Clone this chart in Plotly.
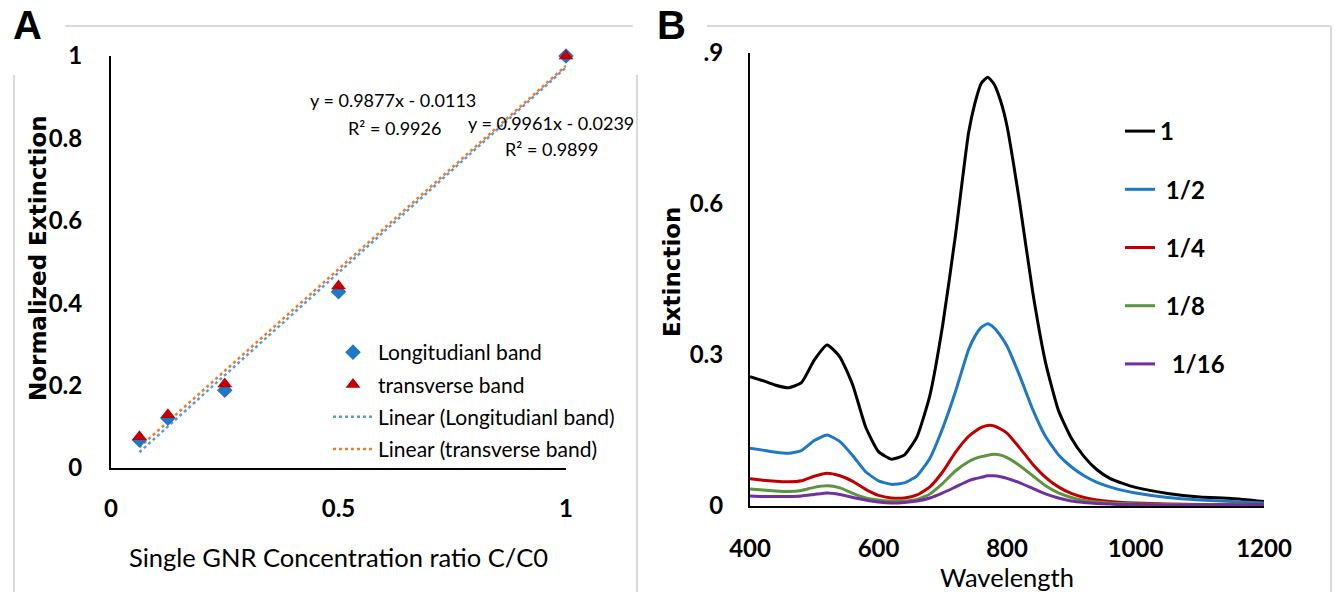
import plotly.graph_objects as go

W, H = 1335, 592

# ---------------- Panel A data ----------------
conc = [0.0625, 0.125, 0.25, 0.5, 1.0]
long_band = [0.068, 0.121, 0.189, 0.428, 1.0]
trans_band = [0.076, 0.129, 0.204, 0.442, 1.0]
fit_long_slope, fit_long_icpt = 0.9961, -0.0239
fit_trans_slope, fit_trans_icpt = 0.9877, -0.0113
fit_x = [0.0625, 1.0]
xA_ticks = [0, 0.5, 1]
xA_labels = ["0", "0.5", "1"]
yA_ticks = [0, 0.2, 0.4, 0.6, 0.8, 1]
yA_labels = ["0", "0.2", "0.4", "0.6", "0.8", "1"]

# ---------------- Panel B data ----------------
wl = [400, 420, 440, 460, 480, 500, 520, 540, 560, 580, 600, 620, 640, 660, 680,
      700, 720, 740, 750, 760, 770, 780, 790, 800, 820, 840, 860, 880, 900, 920,
      940, 960, 980, 1000, 1050, 1100, 1150, 1200]
ext_1 = [0.257, 0.249, 0.240, 0.235, 0.245, 0.290, 0.320, 0.296, 0.240, 0.157, 0.108,
         0.093, 0.101, 0.138, 0.220, 0.360, 0.540, 0.740, 0.800, 0.840, 0.852, 0.838,
         0.805, 0.755, 0.600, 0.425, 0.285, 0.190, 0.135, 0.098, 0.072, 0.055, 0.045,
         0.037, 0.025, 0.018, 0.015, 0.009]
ext_1_2 = [0.115, 0.111, 0.107, 0.105, 0.110, 0.130, 0.141, 0.128, 0.100, 0.068, 0.050,
           0.043, 0.046, 0.060, 0.095, 0.155, 0.228, 0.310, 0.337, 0.355, 0.362, 0.354,
           0.338, 0.318, 0.258, 0.192, 0.138, 0.102, 0.078, 0.060, 0.047, 0.038, 0.031,
           0.026, 0.017, 0.012, 0.009, 0.006]
ext_1_4 = [0.054, 0.051, 0.049, 0.048, 0.050, 0.059, 0.065, 0.060, 0.049, 0.033, 0.021,
           0.016, 0.016, 0.022, 0.038, 0.068, 0.107, 0.138, 0.148, 0.156, 0.160, 0.159,
           0.153, 0.145, 0.115, 0.083, 0.057, 0.038, 0.025, 0.017, 0.012, 0.009, 0.007,
           0.006, 0.004, 0.003, 0.003, 0.002]
ext_1_8 = [0.034, 0.032, 0.030, 0.029, 0.031, 0.037, 0.040, 0.036, 0.025, 0.016, 0.012,
           0.010, 0.010, 0.013, 0.024, 0.045, 0.070, 0.088, 0.094, 0.098, 0.101, 0.103,
           0.101, 0.096, 0.080, 0.060, 0.040, 0.026, 0.017, 0.011, 0.008, 0.006, 0.005,
           0.004, 0.003, 0.002, 0.002, 0.001]
ext_1_16 = [0.020, 0.019, 0.019, 0.019, 0.020, 0.023, 0.026, 0.023, 0.017, 0.012, 0.008,
            0.006, 0.007, 0.010, 0.016, 0.026, 0.038, 0.050, 0.054, 0.057, 0.060, 0.060,
            0.058, 0.055, 0.046, 0.035, 0.024, 0.016, 0.010, 0.007, 0.005, 0.004, 0.003,
            0.003, 0.002, 0.002, 0.001, 0.001]
series_B = [("1", ext_1, "#000000"), (" 1/2", ext_1_2, "#1f78c4"),
            (" 1/4", ext_1_4, "#c00000"), (" 1/8", ext_1_8, "#5e9440"),
            ("  1/16", ext_1_16, "#7030a0")]
xB_ticks = [400, 600, 800, 1000, 1200]
yB_ticks = [0, 0.3, 0.6, 0.9]
yB_labels = ["0", "0.3", "0.6", ".9"]


def px(x):
    return x / W


def py(y):
    return 1 - y / H


fig = go.Figure()

# Panel A: fit lines first (drawn underneath), markers on top
fig.add_trace(go.Scatter(x=fit_x, y=[fit_long_slope * v + fit_long_icpt for v in fit_x],
                         mode="lines", name="Linear (Longitudianl band)",
                         line=dict(color="#5b9bd5", width=2.5, dash="dot"),
                         xaxis="x", yaxis="y", legend="legend", legendgroup="a3",
                         legendrank=3))
fig.add_trace(go.Scatter(x=fit_x, y=[fit_trans_slope * v + fit_trans_icpt for v in fit_x],
                         mode="lines", name="Linear (transverse band)",
                         line=dict(color="#ed7d31", width=2.5, dash="dot"),
                         xaxis="x", yaxis="y", legend="legend", legendgroup="a4",
                         legendrank=4))
fig.add_trace(go.Scatter(x=conc, y=long_band, mode="markers", name="Longitudianl band",
                         marker=dict(symbol="diamond", size=12, color="#1f78c4"),
                         xaxis="x", yaxis="y", legend="legend", legendgroup="a1",
                         legendrank=1, cliponaxis=False))
fig.add_trace(go.Scatter(x=conc, y=trans_band, mode="markers", name="transverse band",
                         marker=dict(symbol="triangle-up", size=13, color="#c00000"),
                         xaxis="x", yaxis="y", legend="legend", legendgroup="a2",
                         legendrank=2, cliponaxis=False))

# Panel B traces
for i, (name, vals, col) in enumerate(series_B):
    fig.add_trace(go.Scatter(x=wl, y=vals, mode="lines", name=name,
                             line=dict(color=col, width=3, shape="spline", smoothing=0.5),
                             xaxis="x2", yaxis="y2", legend="legend2",
                             legendgroup="b%d" % i, legendrank=10 + i))

tick_font = dict(family="Lato", size=24, color="#000000", weight="bold")
axis_common = dict(showline=True, linecolor="#000000", linewidth=2, showgrid=False,
                   zeroline=False, ticks="outside", tickcolor="rgba(0,0,0,0)",
                   tickfont=tick_font, automargin=False)

fig.update_layout(
    width=W, height=H, margin=dict(l=0, r=0, t=0, b=0, pad=0, autoexpand=False),
    paper_bgcolor="white", plot_bgcolor="white",
    xaxis=dict(domain=[px(111), px(566)], range=[0, 1], tickvals=xA_ticks,
               ticktext=xA_labels, ticklen=18, anchor="y", **axis_common),
    yaxis=dict(domain=[py(468), py(56)], range=[0, 1], tickvals=yA_ticks,
               ticktext=yA_labels, ticklen=22, anchor="x", **axis_common),
    xaxis2=dict(domain=[px(750), px(1264)], range=[400, 1200], tickvals=xB_ticks,
                ticklen=20, anchor="y2", **axis_common),
    yaxis2=dict(domain=[py(506), py(53)], range=[0, 0.9], tickvals=yB_ticks,
                ticktext=yB_labels, ticklen=20, anchor="x2", **axis_common),
    legend=dict(x=px(328), y=py(332), xanchor="left", yanchor="top", itemwidth=40,
                bgcolor="rgba(0,0,0,0)", tracegroupgap=2, traceorder="grouped",
                font=dict(family="Lato", size=21, color="#000000")),
    legend2=dict(x=px(1120), y=py(109), xanchor="left", yanchor="top",
                 bgcolor="rgba(0,0,0,0)", tracegroupgap=24, traceorder="grouped",
                 font=dict(family="Lato", size=24, color="#000000", weight="bold")),
    showlegend=True,
)

ann = []


def add_text(text, x, y, size, family="Lato", weight="normal", angle=0, xanchor="center"):
    ann.append(dict(text=text, x=px(x), y=py(y), xref="paper", yref="paper",
                    showarrow=False, xanchor=xanchor, yanchor="middle", textangle=angle,
                    font=dict(family=family, size=size, color="#000000", weight=weight)))


add_text("A", 27, 25, 40, family="Liberation Sans", weight="bold")
add_text("B", 671, 25, 40, family="Liberation Sans", weight="bold")
add_text("Normalized Extinction", 38, 258, 23, family="DejaVu Sans", weight="bold", angle=-90)
add_text("Extinction", 672, 272, 23, family="DejaVu Sans", weight="bold", angle=-90)
add_text("Single GNR Concentration ratio C/C0", 338, 557, 25.5)
add_text("Wavelength", 1007, 577, 25.5)
add_text("y = 0.9877x - 0.0113", 393, 100, 18)
add_text("R² = 0.9926", 394, 128, 18)
add_text("y = 0.9961x - 0.0239", 551, 123, 18)
add_text("R² = 0.9899", 551, 149, 18)
fig.update_layout(annotations=ann)

frame = "#d9d9d9"
shapes = []
for (x0, y0, x1, y1) in [(65, 26, 633, 26), (14, 75, 14, 592), (637, 75, 637, 592),
                         (707, 26, 1331, 26), (1331, 26, 1331, 592)]:
    shapes.append(dict(type="line", xref="paper", yref="paper", x0=px(x0), y0=py(y0),
                       x1=px(x1), y1=py(y1), line=dict(color=frame, width=2)))
fig.update_layout(shapes=shapes)

fig.write_html("out.html")
